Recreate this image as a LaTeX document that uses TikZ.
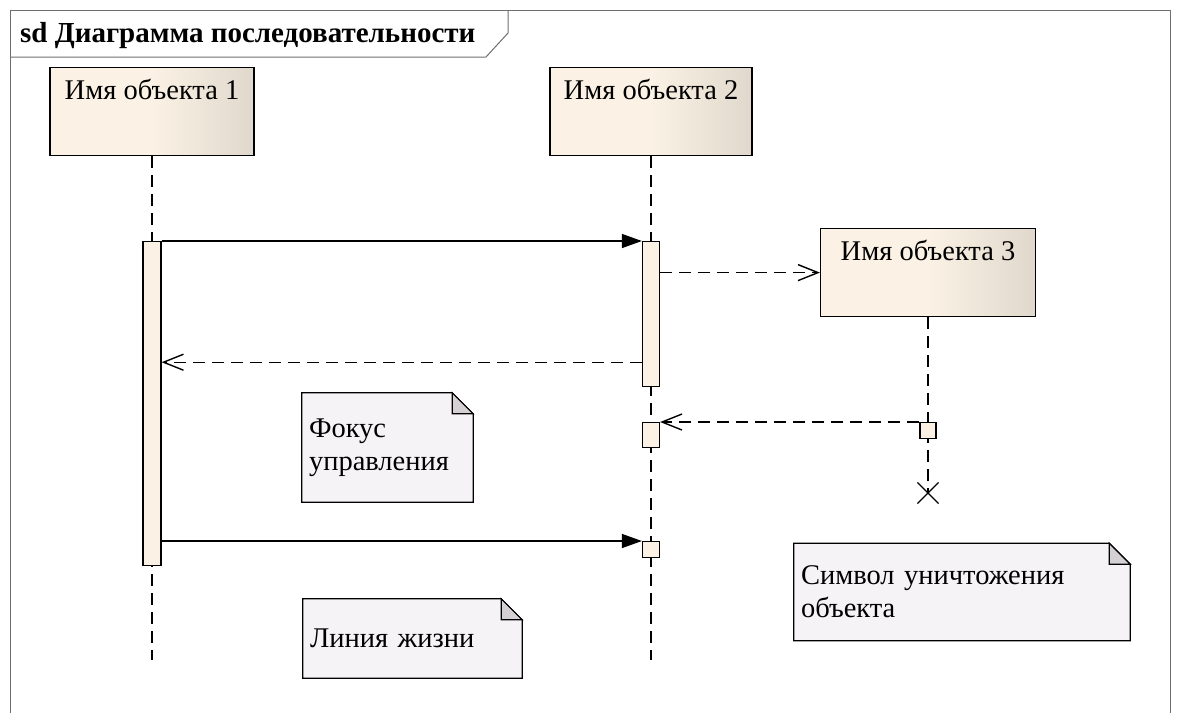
\documentclass[tikz,border=0pt]{standalone}
\usepackage{fontspec}
\setmainfont{LiberationSerif}[Extension=.ttf, UprightFont=*-Regular, BoldFont=*-Bold, ItalicFont=*-Italic, BoldItalicFont=*-BoldItalic]
\usetikzlibrary{arrows.meta,positioning,shapes.misc,backgrounds}
\definecolor{SdFrame}{RGB}{110,110,110}
\definecolor{SdObjLight}{RGB}{251,242,229}
\definecolor{SdObjDark}{RGB}{224,216,204}
\definecolor{SdAct}{RGB}{251,241,228}
\definecolor{SdNote}{RGB}{246,243,246}
\definecolor{SdFold}{RGB}{212,208,212}
\tikzset{
  sd/frame/.style={draw=SdFrame, line width=1pt},
  sd/title/.style={font=\fontsize{29}{33}\selectfont\bfseries, inner sep=0pt},
  sd/object/.style={
    draw=black,
    line width=1.2pt,
    left color=SdObjLight,
    right color=SdObjDark,
    middle color=SdObjLight,
    inner xsep=0pt,
    inner ysep=12pt,
    text height=20pt,
    text depth=44pt,
    anchor=north,
    font=\fontsize{28.5}{32}\selectfont
  },
  sd/act/.style={
    draw=black,
    line width=1.2pt,
    fill=SdAct,
    minimum width=18pt,
    inner sep=0pt,
    anchor=north
  },
  sd/note/.style={
    draw=none,
    align=left,
    inner xsep=7pt,
    inner ysep=0pt,
    font=\fontsize{28.5}{33}\selectfont
  },
  sd/notebody/.style={draw=black, line width=1.2pt, fill=SdNote},
  sd/notefold/.style={draw=black, line width=1.2pt, fill=SdFold},
  sd/lifeline/.style={line width=1.8pt, dash pattern=on 12pt off 7pt},
  sd/call/.style={-{Triangle[length=20pt,width=14pt]}, line width=1.2pt},
  sd/reply/.style={-{Straight Barb[length=20pt,width=16pt]}, line width=1.4pt, dash pattern=on 12pt off 7pt},
  sd/destroy/.style={cross out, draw=black, line width=1.2pt, minimum size=20pt, inner sep=0pt}
}
\begin{document}
\begin{tikzpicture}[x=1pt,y=-1pt]
  \useasboundingbox (0,0) rectangle (1177,713);

  % frame and its tab
  \draw[sd/frame] (10,713) -- (10,10) -- (1170,10) -- (1170,713);
  \draw[sd/frame] (10,57) -- (486,57) -- (508,33) -- (508,10);
  \node[sd/title, anchor=base west] (title) at (20,42) {sd Диаграмма последовательности};

  % objects
  \node[sd/object, minimum width=204pt] (obj1) at (152,67) {Имя объекта 1};
  \node[sd/object, minimum width=202pt] (obj2) at (651,67) {Имя объекта 2};
  \node[sd/object, minimum width=215pt] (obj3) at (928,228) {Имя объекта 3};
  \node[sd/destroy] (destroy) at (928,493) {};

  % lifelines
  \draw[sd/lifeline] (obj1) -- (obj1 |- 0,660);
  \draw[sd/lifeline] (obj2) -- (obj2 |- 0,660);
  \draw[sd/lifeline] (obj3) -- (destroy.center);

  % focus of control
  \node[sd/act, minimum height=324pt] (act1) at (152,241) {};
  \node[sd/act, minimum width=17pt, minimum height=145pt] (act2) at (651,241) {};
  \node[sd/act, minimum width=17pt, minimum height=25pt] (ex2a) at (651,422) {};
  \node[sd/act, minimum width=17pt, minimum height=16pt] (ex2b) at (651,541) {};
  \node[sd/act, minimum width=16pt, minimum height=16pt] (ex3) at (928,422) {};

  % messages
  \coordinate (back) at ([yshift=25pt]act2.south west);
  \draw[sd/call] (act1.north east) -- (act2.north west);
  \draw[sd/reply] (act2.east |- obj3.west) -- (obj3.west);
  \draw[sd/reply] (back) -- (act1.east |- back);
  \draw[sd/reply] (ex3.north west) -- (ex2a.north east);
  \draw[sd/call] (act1.east |- ex2b.north) -- (ex2b.north west);

  % notes
  \node[sd/note, minimum width=171pt, minimum height=109pt, text width=157pt] (focus) at (387.5,447.5) {Фокус\\управления};
  \node[sd/note, minimum width=219pt, minimum height=79pt, text width=205pt] (life) at (412.5,638.5) {Линия жизни};
  \node[sd/note, minimum width=336pt, minimum height=97pt, text width=322pt] (kill) at (962,592) {Символ уничтожения\\объекта};
  \begin{scope}[on background layer]
    \foreach \n in {focus,life,kill}{
      \draw[sd/notebody] (\n.north west) -- ([xshift=-21pt]\n.north east) -- ([yshift=-21pt]\n.north east)
        -- (\n.south east) -- (\n.south west) -- cycle;
      \draw[sd/notefold] ([xshift=-21pt]\n.north east) -- ([xshift=-21pt,yshift=-21pt]\n.north east)
        -- ([yshift=-21pt]\n.north east) -- cycle;
    }
  \end{scope}
\end{tikzpicture}
\end{document}
